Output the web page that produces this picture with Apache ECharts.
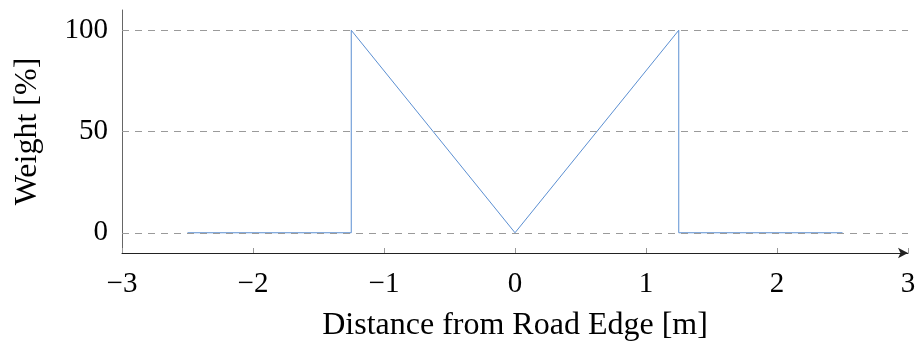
<!DOCTYPE html>
<html>
<head>
<meta charset="utf-8">
<script src="https://cdn.jsdelivr.net/npm/echarts@6/dist/echarts.min.js"></script>
<style>
  html, body { margin: 0; padding: 0; background: #fff; }
  #chart { width: 917px; height: 342px; }
</style>
</head>
<body>
<div id="chart"></div>
<script>
// Weighting profile across the road edge
const distance = [-2.5, -1.25, -1.25, 0, 1.25, 1.25, 2.5];
const weight = [0, 0, 100, 0, 100, 0, 0];
const yTicks = [0, 50, 100];

const FONT = '"Liberation Serif", "DejaVu Serif", serif';
const minus = v => String(v).replace('-', '\u2212');

const chart = echarts.init(document.getElementById('chart'), null, { renderer: 'canvas' });
chart.setOption({
  animation: false,
  backgroundColor: '#fff',
  grid: { left: 122, right: 9, top: 10, bottom: 89, containLabel: false, outerBoundsMode: 'none' },
  xAxis: {
    type: 'value',
    min: -3, max: 3, interval: 1,
    name: 'Distance from Road Edge [m]',
    nameLocation: 'middle',
    nameGap: 57,
    nameTextStyle: { fontFamily: FONT, fontSize: 32, color: '#000' },
    axisLine: { show: true, onZero: false, symbol: ['none', 'arrow'], symbolSize: [8, 10], symbolOffset: [0, 0],
      lineStyle: { color: '#222', width: 1 } },
    axisTick: { show: true, inside: true, length: 5, lineStyle: { color: '#999', width: 1 } },
    axisLabel: { fontFamily: FONT, fontSize: 29, color: '#000', margin: 17, formatter: minus },
    splitLine: { show: false }
  },
  yAxis: {
    type: 'value',
    min: -10, max: 110,
    name: 'Weight [%]',
    nameLocation: 'middle',
    nameGap: 78,
    nameTextStyle: { fontFamily: FONT, fontSize: 32, color: '#000' },
    axisLine: { show: true, onZero: false, lineStyle: { color: '#666', width: 1 } },
    axisTick: { show: false, customValues: yTicks },
    axisLabel: { fontFamily: FONT, fontSize: 29, color: '#000', margin: 14, customValues: yTicks },
    splitLine: { show: false }
  },
  series: [{
    type: 'line',
    data: distance.map((d, i) => [d, weight[i]]),
    showSymbol: false,
    symbol: 'none',
    lineStyle: { color: '#5b8fd2', width: 1 },
    z: 2,
    markLine: {
      silent: true,
      symbol: ['none', 'none'],
      label: { show: false },
      lineStyle: { color: '#9a9a9a', type: [7, 6], width: 1 },
      data: yTicks.map(v => ({ yAxis: v })),
      z: 3
    }
  }]
});
</script>
</body>
</html>
